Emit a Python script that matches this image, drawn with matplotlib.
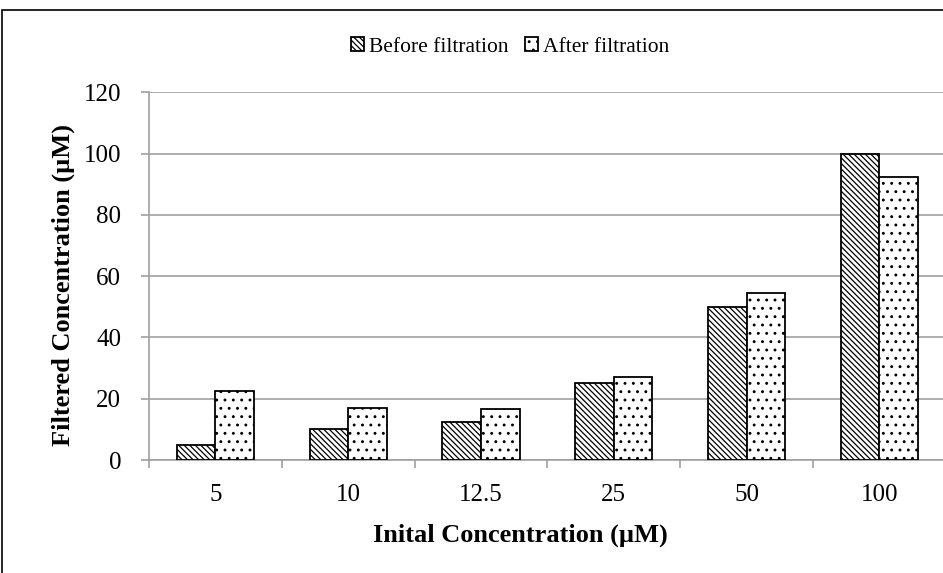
import numpy as np
import matplotlib
matplotlib.use("Agg")
import matplotlib.pyplot as plt
from matplotlib.patches import Rectangle

# data
categories = ["5", "10", "12.5", "25", "50", "100"]
before = [5, 10, 12.5, 25, 50, 100]
after = [22.7, 17, 16.8, 27, 54.5, 92.3]

plt.rcParams['font.family'] = ['Liberation Serif', 'DejaVu Serif']
plt.rcParams['hatch.linewidth'] = 0.9

fig = plt.figure(figsize=(9.43, 5.73), dpi=100)
# plot area runs a little past the right edge, as in the original
ax = fig.add_axes([0.158, 0.197, 0.845, 0.642])

# figure border (right/bottom sides fall outside the image)
fig.patches.append(Rectangle((0.002, -0.05), 1.1, 1.033, transform=fig.transFigure,
                             fill=False, edgecolor='black', linewidth=1.2))

x = np.arange(len(categories))
w = 0.29
ax.bar(x - w / 2, before, w, color='white', edgecolor='black', hatch='\\\\\\\\\\\\',
       linewidth=1.3, label='Before filtration', zorder=3)
ax.bar(x + w / 2, after, w, color='white', edgecolor='black', hatch='..',
       linewidth=1.3, label='After filtration', zorder=3)

ax.set_xlim(-0.5, len(categories) - 0.5)
ax.set_ylim(0, 120)
ax.set_yticks(range(0, 121, 20))
ax.yaxis.grid(True, color='#a0a0a0', linewidth=1.2, zorder=0)

ax.set_xticks(x)
ax.set_xticklabels(categories, fontsize=18)
ax.tick_params(axis='x', length=0, pad=17)
ax.set_xticks(np.arange(-0.5, len(categories) - 0.4, 1), minor=True)
ax.tick_params(axis='x', which='minor', length=6, color='#a0a0a0', width=1.2)
ax.tick_params(axis='y', labelsize=18, length=6, color='#a0a0a0', width=1.2, pad=14)

for s in ['top', 'right']:
    ax.spines[s].set_visible(False)
for s in ['left', 'bottom']:
    ax.spines[s].set_color('#a0a0a0')
    ax.spines[s].set_linewidth(1.2)

ax.text(0.466, -0.204, "Inital Concentration (µM)", transform=ax.transAxes,
        fontsize=19, fontweight='bold', ha='center', va='center')
ax.text(-0.107, 0.477, "Filtered Concentration (µM)", transform=ax.transAxes,
        fontsize=19, fontweight='bold', ha='center', va='center', rotation=90)

fig.legend(loc='center', bbox_to_anchor=(0.541, 0.918), ncol=2, frameon=False,
           fontsize=15.5, handlelength=0.6, handleheight=0.6, handletextpad=0.2,
           columnspacing=0.8)

fig.savefig("out.png", dpi=100)
